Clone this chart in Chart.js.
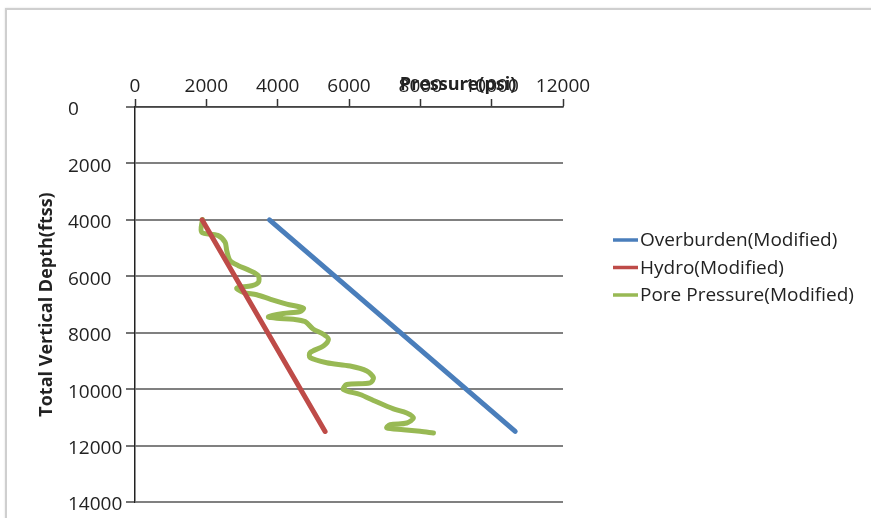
<!DOCTYPE html>
<html>
<head>
<meta charset="utf-8">
<script src="https://cdn.jsdelivr.net/npm/chart.js@4.4.1/dist/chart.umd.min.js"></script>
<style>
  html, body { margin: 0; padding: 0; background: #ffffff; }
  #wrap { position: relative; width: 871px; height: 518px; overflow: hidden; }
  #frame {
    position: absolute; left: 5px; top: 8px; width: 900px; height: 600px;
    border: 2px solid #cfcfcf; box-shadow: 0 0 2px #e0e0e0;
  }
  #c { position: absolute; left: 0; top: 0; }
</style>
</head>
<body>
<div id="wrap">
  <div id="frame"></div>
  <canvas id="c" width="871" height="518"></canvas>
</div>
<script>
// Axis tick values
const pressureTicks = [0, 2000, 4000, 6000, 8000, 10000, 12000];
const depthTicks = [0, 2000, 4000, 6000, 8000, 10000, 12000, 14000];

// Series names
const seriesNames = ['Overburden(Modified)', 'Hydro(Modified)', 'Pore Pressure(Modified)'];

// Overburden pressure (psi) vs depth (ftss)
const overburdenPressure = [3770, 10660];
const overburdenDepth = [4000, 11500];

// Hydrostatic pressure (psi) vs depth (ftss)
const hydroPressure = [1880, 5330];
const hydroDepth = [4000, 11500];

// Pore pressure (psi) vs depth (ftss)
const porePressure = [1890, 1870, 2320, 2525, 2572, 2665, 2898, 3226, 3459, 3459, 3272, 2852, 3039, 3413,
  3787, 4254, 4721, 4628, 4160, 3740, 3974, 4441, 4768, 5002, 5282, 5423, 5282, 4909, 4909, 5376, 6031,
  6499, 6686, 6592, 5938, 5844, 6311, 6686, 7246, 7620, 7807, 7620, 7153, 7059, 7526, 7994, 8368];
const poreDepth = [3990, 4437, 4550, 4790, 5089, 5445, 5623, 5801, 5979, 6217, 6335, 6418, 6572, 6655,
  6809, 6987, 7130, 7249, 7320, 7438, 7486, 7522, 7605, 7877, 8055, 8232, 8470, 8708, 8886, 9064, 9182,
  9360, 9598, 9776, 9834, 10012, 10190, 10400, 10700, 10843, 11022, 11200, 11260, 11378, 11436, 11496, 11555];

const colors = ['#4a7ebb', '#be4b48', '#98b954'];

function pairs(xs, ys) { return xs.map((x, i) => ({ x: x, y: ys[i] })); }

const FONT = "'Open Sans', 'Liberation Sans', sans-serif";

// Legend drawn at the right of the plot
const sideLegend = {
  id: 'sideLegend',
  afterDraw(chart) {
    const ctx = chart.ctx;
    ctx.save();
    ctx.font = '19px ' + FONT;
    ctx.textBaseline = 'middle';
    ctx.textAlign = 'left';
    chart.data.datasets.forEach((ds, i) => {
      const y = 240 + i * 27.5;
      ctx.strokeStyle = ds.borderColor;
      ctx.lineWidth = 3.5;
      ctx.beginPath();
      ctx.moveTo(613, y);
      ctx.lineTo(638, y);
      ctx.stroke();
      ctx.fillStyle = '#222';
      ctx.fillText(ds.label, 640, y + 1);
    });
    ctx.restore();
  }
};

// Pressure axis title sits on the tick label row
const pressureTitle = {
  id: 'pressureTitle',
  afterDraw(chart) {
    const ctx = chart.ctx;
    ctx.save();
    ctx.font = 'bold 18px ' + FONT;
    ctx.fillStyle = '#222';
    ctx.textAlign = 'center';
    ctx.textBaseline = 'middle';
    ctx.fillText('Pressure(psi)', 458, 85);
    ctx.restore();
  }
};

const plainNumber = v => String(v);

new Chart(document.getElementById('c'), {
  type: 'scatter',
  data: {
    datasets: [
      { label: seriesNames[0], data: pairs(overburdenPressure, overburdenDepth), borderColor: colors[0], backgroundColor: colors[0] },
      { label: seriesNames[1], data: pairs(hydroPressure, hydroDepth), borderColor: colors[1], backgroundColor: colors[1] },
      { label: seriesNames[2], data: pairs(porePressure, poreDepth), borderColor: colors[2], backgroundColor: colors[2], tension: 0.3 }
    ].map(d => Object.assign({
      showLine: true, pointRadius: 0, borderWidth: 5,
      borderCapStyle: 'round', borderJoinStyle: 'round'
    }, d))
  },
  options: {
    responsive: false,
    animation: false,
    layout: { padding: { left: 68, right: 308, top: 0, bottom: 16 } },
    plugins: { legend: { display: false }, tooltip: { enabled: false } },
    scales: {
      x: {
        type: 'linear', position: 'top', min: 0, max: 12000,
        afterBuildTicks(s) { s.ticks = pressureTicks.map(v => ({ value: v })); },
        afterFit(s) { s.height = 107; },
        grid: { drawOnChartArea: false, drawTicks: true, tickLength: 8, tickColor: '#333', tickWidth: 1.5 },
        border: { display: true, color: '#444', width: 1.5 },
        ticks: { color: '#222', padding: 1, maxRotation: 0, callback: plainNumber, font: { family: FONT, size: 19 } }
      },
      y: {
        type: 'linear', position: 'left', min: 0, max: 14000, reverse: true,
        afterBuildTicks(s) { s.ticks = depthTicks.map(v => ({ value: v })); },
        afterFit(s) { s.width = 67; },
        grid: { color: '#808080', lineWidth: 2, drawTicks: true, tickLength: 9, tickColor: '#444', tickWidth: 1.5 },
        border: { display: true, color: '#222', width: 1.5 },
        ticks: { color: '#222', crossAlign: 'far', labelOffset: 3, callback: plainNumber, font: { family: FONT, size: 19 } },
        title: {
          display: true, text: 'Total Vertical Depth(ftss)', color: '#222',
          font: { family: FONT, size: 18, weight: 'bold' },
          padding: { top: -32, bottom: 0 }
        }
      }
    }
  },
  plugins: [sideLegend, pressureTitle]
});
</script>
</body>
</html>
